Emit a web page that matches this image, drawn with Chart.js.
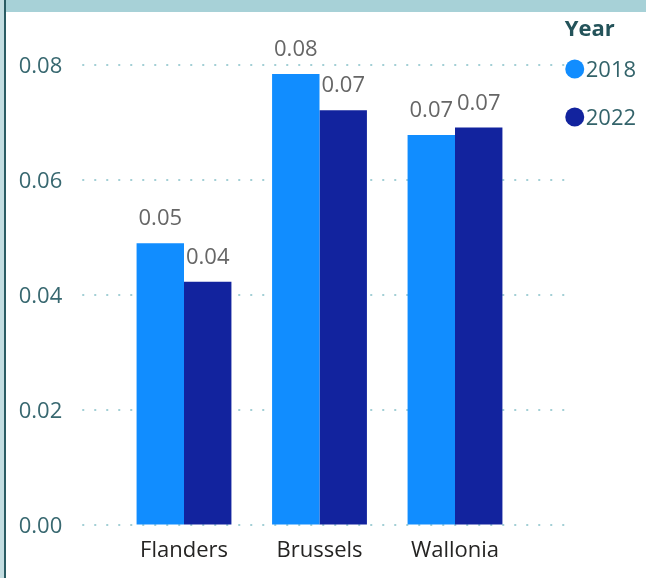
<!DOCTYPE html>
<html>
<head>
<meta charset="utf-8">
<script src="https://cdn.jsdelivr.net/npm/chart.js@4"></script>
<style>
  html, body { margin: 0; padding: 0; background: #fff; }
  #wrap { position: relative; width: 646px; height: 578px; overflow: hidden; }
  #band { position: absolute; left: 0; top: 0; width: 646px; height: 12px; background: #a7d1d7; }
  #strip { position: absolute; left: 0; top: 0; width: 4px; height: 578px; background: #c3dde1; }
  #edge { position: absolute; left: 4px; top: 0; width: 2px; height: 578px; background: #2b5c63; }
  #box { position: absolute; left: 0; top: 0; width: 646px; height: 578px; }
</style>
</head>
<body>
<div id="wrap">
  <div id="box"><canvas id="chart"></canvas></div>
  <div id="band"></div>
  <div id="strip"></div>
  <div id="edge"></div>
</div>
<script>
'use strict';

const regions = ['Flanders', 'Brussels', 'Wallonia'];
const years = ['2018', '2022'];
const values2018 = [0.049, 0.0784, 0.0678];
const values2022 = [0.0423, 0.0721, 0.0691];
const yTicks = [0, 0.02, 0.04, 0.06, 0.08];

const FONT = "'Open Sans', 'Noto Sans', sans-serif";

// dotted gridlines that run a bit past the plot on both sides
const dottedGrid = {
  id: 'dottedGrid',
  beforeDatasetsDraw(chart) {
    const {ctx, chartArea, scales: {y}} = chart;
    ctx.save();
    ctx.strokeStyle = '#a3cfd5';
    ctx.lineWidth = 2;
    ctx.setLineDash([2, 10]);
    y.ticks.forEach(t => {
      const py = Math.round(y.getPixelForValue(t.value));
      ctx.beginPath();
      ctx.moveTo(chartArea.left - 34, py);
      ctx.lineTo(chartArea.right + 44, py);
      ctx.stroke();
    });
    ctx.restore();
  }
};

const valueLabels = {
  id: 'valueLabels',
  afterDatasetsDraw(chart) {
    const {ctx} = chart;
    ctx.save();
    ctx.font = `22px ${FONT}`;
    ctx.fillStyle = '#666666';
    ctx.textAlign = 'center';
    ctx.textBaseline = 'alphabetic';
    chart.data.datasets.forEach((ds, i) => {
      chart.getDatasetMeta(i).data.forEach((bar, j) => {
        ctx.fillText(ds.data[j].toFixed(2), bar.x, bar.y - 18);
      });
    });
    ctx.restore();
  }
};

const sideLegend = {
  id: 'sideLegend',
  afterDraw(chart) {
    const {ctx, chartArea} = chart;
    const x = chartArea.right + 42;
    ctx.save();
    ctx.textBaseline = 'middle';
    ctx.textAlign = 'left';
    ctx.font = `bold 22px ${FONT}`;
    ctx.fillStyle = '#24535a';
    ctx.fillText('Year', x, 30);
    ctx.font = `22px ${FONT}`;
    chart.data.datasets.forEach((ds, i) => {
      const cy = 69 + i * 48;
      ctx.fillStyle = ds.backgroundColor;
      ctx.beginPath();
      ctx.arc(x + 10, cy, 9.5, 0, Math.PI * 2);
      ctx.fill();
      ctx.fillStyle = '#33636a';
      ctx.fillText(ds.label, x + 21, cy + 2);
    });
    ctx.restore();
  }
};

new Chart(document.getElementById('chart').getContext('2d'), {
  type: 'bar',
  data: {
    labels: regions,
    datasets: [
      { label: years[0], data: values2018, backgroundColor: '#118dff' },
      { label: years[1], data: values2022, backgroundColor: '#12239e' }
    ]
  },
  options: {
    responsive: true,
    maintainAspectRatio: false,
    animation: false,
    layout: { padding: { top: 20, right: 123.25, left: 0, bottom: 0 } },
    datasets: { bar: { categoryPercentage: 0.7, barPercentage: 1.0 } },
    scales: {
      x: {
        grid: { display: false, drawTicks: false },
        border: { display: false },
        ticks: { color: '#252423', font: { family: FONT, size: 22 }, padding: 13 },
        afterFit: scale => { scale.height = 53; }
      },
      y: {
        min: 0,
        max: 0.0878,
        grid: { display: true, drawOnChartArea: false, drawTicks: true, tickLength: 54, tickColor: 'rgba(0,0,0,0)' },
        border: { display: false },
        afterBuildTicks: scale => { scale.ticks = yTicks.map(v => ({ value: v })); },
        ticks: {
          color: '#386870',
          font: { family: FONT, size: 22 },
          padding: 0,
          labelOffset: 1.5,
          callback: v => v.toFixed(2)
        },
        afterFit: scale => { scale.width = 116.25; }
      }
    },
    plugins: {
      legend: { display: false },
      tooltip: { enabled: false }
    }
  },
  plugins: [dottedGrid, valueLabels, sideLegend]
});
</script>
</body>
</html>
